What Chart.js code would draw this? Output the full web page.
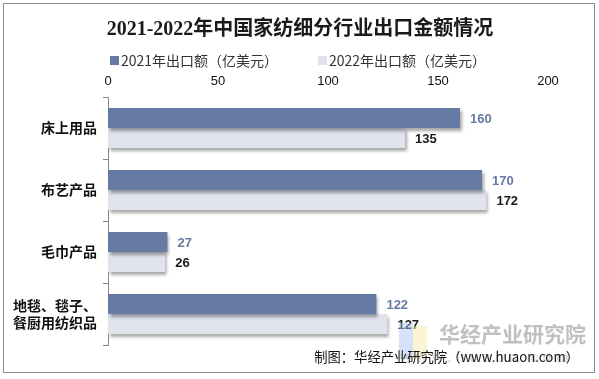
<!DOCTYPE html>
<html><head><meta charset="utf-8">
<script src="https://cdn.jsdelivr.net/npm/chart.js@4"></script>
<style>html,body{margin:0;padding:0;background:#fff}#wrap{width:599px;height:379px;position:relative}</style>
</head><body><div id="wrap"><canvas id="c" width="599" height="379"></canvas></div>
<script>
const categories = ["床上用品", "布艺产品", "毛巾产品", ["地毯、毯子、", "餐厨用纺织品"]];
const values2021 = [160, 170, 27, 122];
const values2022 = [135, 172, 26, 127];
const seriesNames = ["2021年出口额（亿美元）", "2022年出口额（亿美元）"];
const xTicks = [0, 50, 100, 150, 200];
const titleText = "2021-2022年中国家纺细分行业出口金额情况";
const sourceText = "制图：华经产业研究院（www.huaon.com）";
const watermarkText = "华经产业研究院";

const shadowPlugin = {
  id: 'shadow',
  beforeDatasetDraw(chart) {
    const ctx = chart.ctx; ctx.save();
    ctx.shadowColor = 'rgba(0,0,0,0.35)'; ctx.shadowOffsetX = 2; ctx.shadowOffsetY = 3; ctx.shadowBlur = 3;
  },
  afterDatasetDraw(chart) { chart.ctx.restore(); }
};
const labelPlugin = {
  id: 'labels',
  afterDatasetsDraw(chart) {
    const ctx = chart.ctx; ctx.save();
    ctx.font = 'bold 13px "Liberation Sans", Arial, sans-serif';
    ctx.textBaseline = 'middle'; ctx.textAlign = 'left';
    chart.data.datasets.forEach((ds, i) => {
      const meta = chart.getDatasetMeta(i);
      ctx.fillStyle = i === 0 ? '#667BA3' : '#1a1a1a';
      meta.data.forEach((bar, j) => { ctx.fillText(String(ds.data[j]), bar.x + 10, bar.y + 1); });
    });
    ctx.restore();
  }
};
const headerPlugin = {
  id: 'header',
  afterDraw(chart) {
    const ctx = chart.ctx; ctx.save();
    ctx.fillStyle = '#1a1a1a';
    ctx.font = 'bold 20px "Liberation Serif", "Noto Sans CJK SC", serif';
    ctx.textAlign = 'center'; ctx.textBaseline = 'middle';
    ctx.fillText(titleText, 300, 30);
    const xs = [110, 318];
    ctx.font = '14px "Noto Sans CJK SC", sans-serif';
    ctx.textAlign = 'left';
    chart.data.datasets.forEach((ds, i) => {
      ctx.fillStyle = ds.backgroundColor;
      ctx.fillRect(xs[i], 56, 9, 9);
      ctx.fillStyle = '#333';
      ctx.fillText(ds.label, xs[i] + 11, 61);
    });
    ctx.restore();
  }
};
const decoPlugin = {
  id: 'deco',
  afterDraw(chart) {
    const ctx = chart.ctx; ctx.save();
    ctx.globalAlpha = 0.5;
    ctx.fillStyle = '#a9c8f2'; ctx.fillRect(399, 323, 14, 36);
    ctx.fillStyle = '#f8eaa8'; ctx.fillRect(413, 326, 14, 33);
    ctx.globalAlpha = 1;
    ctx.fillStyle = 'rgba(150,150,150,0.6)';
    ctx.font = 'bold 21px "Noto Sans CJK SC", sans-serif';
    ctx.textAlign = 'left'; ctx.textBaseline = 'middle';
    ctx.fillText(watermarkText, 439, 334);
    ctx.fillStyle = 'rgba(190,190,190,0.5)';
    ctx.font = 'bold 15px "Liberation Sans", sans-serif';
    ctx.fillText('w w w . h u a o n . c o m', 400, 358);
    ctx.fillStyle = '#111';
    ctx.font = '13.3px "Noto Sans CJK SC", sans-serif';
    ctx.textAlign = 'right';
    ctx.fillText(sourceText, 579, 357);
    ctx.strokeStyle = '#8c8c8c'; ctx.lineWidth = 1;
    ctx.strokeRect(3.5, 3.5, 591, 369);
    ctx.restore();
  }
};

new Chart(document.getElementById('c'), {
  type: 'bar',
  data: {
    labels: categories,
    datasets: [
      { label: seriesNames[0], data: values2021, backgroundColor: '#667BA3', barPercentage: 1, categoryPercentage: 0.645 },
      { label: seriesNames[1], data: values2022, backgroundColor: '#DFE3EC', barPercentage: 1, categoryPercentage: 0.645 }
    ]
  },
  options: {
    indexAxis: 'y', responsive: false, animation: false,
    layout: { padding: { left: 10, right: 51, top: 75, bottom: 34 } },
    plugins: {
      title: { display: false },
      legend: { display: false },
      tooltip: { enabled: false }
    },
    scales: {
      x: { position: 'top', min: 0, max: 200, afterBuildTicks(s) { s.ticks = xTicks.map(v => ({ value: v })); },
        afterFit(s) { s.height = 22; },
        grid: { display: false, drawTicks: false, tickLength: 0 }, border: { display: false },
        ticks: { color: '#111', font: { family: '"Liberation Sans Narrow", "Liberation Sans", sans-serif', size: 13 }, padding: 8 } },
      y: { afterFit(s) { s.width = 98; },
        grid: { display: true, drawOnChartArea: false, offset: true, tickLength: 5, color: '#888' },
        border: { display: true, color: '#888' },
        ticks: { color: '#111', font: { family: '"Noto Sans CJK SC", sans-serif', size: 14, weight: 'bold' }, padding: 6 } }
    }
  },
  plugins: [shadowPlugin, labelPlugin, headerPlugin, decoPlugin]
});
</script></body></html>
